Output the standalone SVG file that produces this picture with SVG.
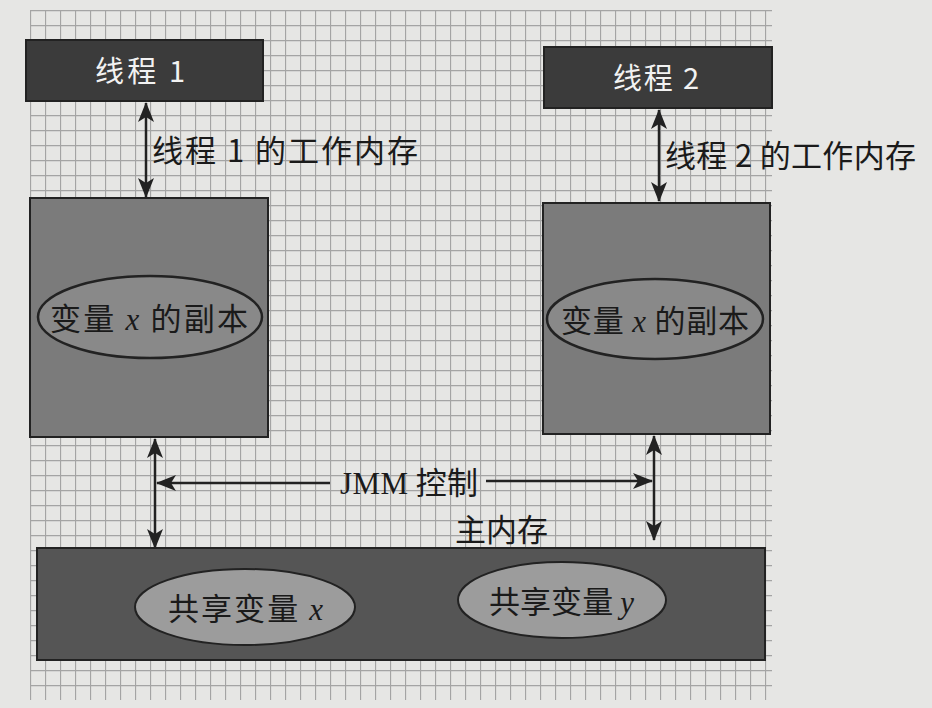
<svg xmlns="http://www.w3.org/2000/svg" width="932" height="708" viewBox="0 0 932 708">
<defs>
<pattern id="grid" x="30" y="10" width="15" height="15" patternUnits="userSpaceOnUse">
<path d="M0 0.5H15M0.5 0V15" stroke="#a4a4a4" stroke-width="1.3" fill="none"/>
</pattern>
<marker id="ah" viewBox="0 0 20 20" refX="19" refY="10" markerWidth="20" markerHeight="20" markerUnits="userSpaceOnUse" orient="auto-start-reverse">
<path d="M0 2L20 10L0 18L5 10Z" fill="#222"/>
</marker>
<style>
.thread{fill:#3b3b3b;stroke:#222;stroke-width:2}
.work{fill:#7b7b7b;stroke:#222;stroke-width:2}
.main{fill:#555;stroke:#222;stroke-width:2}
.ell1{fill:#898989;stroke:#222;stroke-width:2.5}
.ell2{fill:#9c9c9c;stroke:#222;stroke-width:2}
.lbl{font-family:"Noto Sans CJK SC","Noto Sans",sans-serif;font-size:31px;fill:#1a1a1a}
.wlbl{font-family:"Noto Sans CJK SC","Noto Sans",sans-serif;font-size:29px;fill:#f2f2f2}
.it{font-family:"Liberation Serif",serif;font-style:italic}
.rm{font-family:"Liberation Serif",serif}
.conn{stroke:#222;stroke-width:2.5;fill:none}
</style>
</defs>
<rect width="932" height="708" fill="#e6e6e4"/>
<rect x="30" y="10" width="742" height="690" fill="url(#grid)"/>
<g id="thread1">
<rect class="thread" x="26" y="40" width="237" height="61"/>
<text class="wlbl" x="95" y="82" textLength="90" lengthAdjust="spacing">线程 1</text>
</g>
<g id="thread2">
<rect class="thread" x="544" y="47" width="228" height="61"/>
<text class="wlbl" x="613" y="89" textLength="86" lengthAdjust="spacing">线程 2</text>
</g>
<g id="work1">
<rect class="work" x="30" y="198" width="238" height="239"/>
<ellipse class="ell1" cx="150" cy="317" rx="112" ry="41"/>
<text class="lbl" x="50" y="330" textLength="198" lengthAdjust="spacing">变量 <tspan class="it">x</tspan> 的副本</text>
</g>
<g id="work2">
<rect class="work" x="543" y="203" width="227" height="231"/>
<ellipse class="ell1" cx="655" cy="319" rx="108" ry="40"/>
<text class="lbl" x="561" y="332" textLength="188" lengthAdjust="spacing">变量 <tspan class="it">x</tspan> 的副本</text>
</g>
<g id="mainmem">
<rect class="main" x="37" y="548" width="728" height="112"/>
<ellipse class="ell2" cx="245" cy="607" rx="110" ry="38"/>
<text class="lbl" x="168" y="620" textLength="155" lengthAdjust="spacing">共享变量 <tspan class="it">x</tspan></text>
<ellipse class="ell2" cx="562" cy="600" rx="104" ry="38"/>
<text class="lbl" x="489" y="613" textLength="145" lengthAdjust="spacing">共享变量 <tspan class="it">y</tspan></text>
</g>
<g id="connectors">
<line class="conn" x1="146" y1="103" x2="146" y2="197" marker-start="url(#ah)" marker-end="url(#ah)"/>
<line class="conn" x1="659" y1="110" x2="659" y2="201" marker-start="url(#ah)" marker-end="url(#ah)"/>
<line class="conn" x1="155" y1="439" x2="155" y2="548" marker-start="url(#ah)" marker-end="url(#ah)"/>
<line class="conn" x1="654" y1="436" x2="654" y2="540" marker-start="url(#ah)" marker-end="url(#ah)"/>
<line class="conn" x1="330" y1="483" x2="157" y2="483" marker-end="url(#ah)"/>
<line class="conn" x1="486" y1="481" x2="652" y2="481" marker-end="url(#ah)"/>
</g>
<g id="labels">
<text class="lbl" x="152" y="162" font-size="32" textLength="266" lengthAdjust="spacing">线程 1 的工作内存</text>
<text class="lbl" x="665" y="167" font-size="32" textLength="251" lengthAdjust="spacing">线程 2 的工作内存</text>
<text class="lbl" x="340" y="494" textLength="138" lengthAdjust="spacing"><tspan class="rm">JMM</tspan> 控制</text>
<text class="lbl" x="455" y="541" textLength="93" lengthAdjust="spacing">主内存</text>
</g>
</svg>
